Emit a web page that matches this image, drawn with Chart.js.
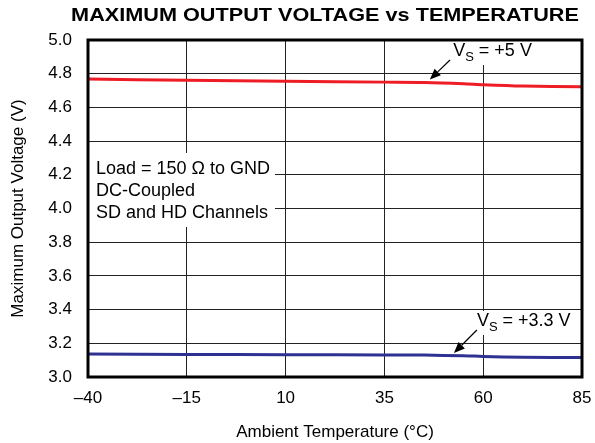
<!DOCTYPE html>
<html>
<head>
<meta charset="utf-8">
<script src="https://cdn.jsdelivr.net/npm/chart.js@4/dist/chart.umd.min.js"></script>
<style>
  html, body { margin: 0; padding: 0; background: #fff; }
  #wrap { width: 595px; height: 443px; }
</style>
</head>
<body>
<div id="wrap"><canvas id="myChart" width="595" height="443"></canvas></div>
<script>
// temperatures (°C) and measured output voltage
const temps = [-40, -15, 10, 35, 45, 55, 60, 70, 85];
const vs5 = [4.768, 4.761, 4.755, 4.750, 4.748, 4.741, 4.735, 4.727, 4.722];
const vs33 = [3.136, 3.134, 3.132, 3.131, 3.130, 3.126, 3.122, 3.117, 3.115];

const xTicks = [-40, -15, 10, 35, 60, 85];
const yTicks = [3.0, 3.2, 3.4, 3.6, 3.8, 4.0, 4.2, 4.4, 4.6, 4.8, 5.0];

const noteLines = ["Load = 150 \u03A9 to GND", "DC-Coupled", "SD and HD Channels"];
const titleText = "MAXIMUM OUTPUT VOLTAGE vs TEMPERATURE";

const FONT = "'Liberation Sans', Arial, sans-serif";

function pts(ys) {
    var out = [];
    for (var i = 0; i < temps.length; i++) {
        out.push({x: temps[i], y: ys[i]});
    }
    return out;
}

function arrow(ctx, x1, y1, x2, y2) {
    ctx.save();
    ctx.strokeStyle = "#000";
    ctx.fillStyle = "#000";
    ctx.lineWidth = 1.2;
    const ang = Math.atan2(y2 - y1, x2 - x1);
    const hl = 11, hw = 4.5;
    const bx = x2 - hl * Math.cos(ang), by = y2 - hl * Math.sin(ang);
    ctx.beginPath();
    ctx.moveTo(x1, y1);
    ctx.lineTo(bx, by);
    ctx.stroke();
    ctx.beginPath();
    ctx.moveTo(x2, y2);
    ctx.lineTo(bx + hw * Math.sin(ang), by - hw * Math.cos(ang));
    ctx.lineTo(bx - hw * Math.sin(ang), by + hw * Math.cos(ang));
    ctx.closePath();
    ctx.fill();
    ctx.restore();
}

function vsLabel(ctx, x, y, value) {
    // "V" with subscript "S" then " = value"
    ctx.save();
    ctx.textBaseline = "alphabetic";
    ctx.textAlign = "left";
    ctx.font = "18px " + FONT;
    const w1 = ctx.measureText("V").width;
    ctx.font = "13px " + FONT;
    const w2 = ctx.measureText("S").width;
    ctx.font = "18px " + FONT;
    const txt = " = " + value;
    const w3 = ctx.measureText(txt).width;
    ctx.fillStyle = "#fff";
    ctx.fillRect(x - 2, y - 15, w1 + w2 + w3 + 4, 24);
    ctx.fillStyle = "#000";
    ctx.fillText("V", x, y);
    ctx.font = "13px " + FONT;
    ctx.fillText("S", x + w1, y + 5);
    ctx.font = "18px " + FONT;
    ctx.fillText(txt, x + w1 + w2, y);
    ctx.restore();
}

const annotate = {
    id: "annotate",
    afterDraw(chart) {
        const ctx = chart.ctx;
        const xs = chart.scales.x, ys = chart.scales.y;
        const area = chart.chartArea;
        const px = v => xs.getPixelForValue(v);
        const py = v => ys.getPixelForValue(v);

        // title, a little wide like the original
        ctx.save();
        ctx.fillStyle = "#000";
        ctx.font = "bold 19px " + FONT;
        ctx.textAlign = "center";
        ctx.textBaseline = "alphabetic";
        ctx.translate((area.left + area.right) / 2 - 10, 21);
        ctx.scale(1.14, 1);
        ctx.fillText(titleText, 0, 0);
        ctx.restore();

        // note box
        ctx.save();
        ctx.font = "18px " + FONT;
        let wmax = 0;
        noteLines.forEach(t => { wmax = Math.max(wmax, ctx.measureText(t).width); });
        const nx = px(-38), ny = py(4.205);
        ctx.fillStyle = "#fff";
        ctx.fillRect(area.left, ny - 21, nx - area.left + wmax + 5, 22 * noteLines.length + 8);
        ctx.fillStyle = "#000";
        ctx.textAlign = "left";
        noteLines.forEach((t, i) => ctx.fillText(t, nx, ny + i * 22));
        ctx.restore();

        // supply labels + arrows
        vsLabel(ctx, px(52.4), py(4.905), "+5 V");
        arrow(ctx, px(51.6), py(4.881), px(46.5), py(4.765));
        vsLabel(ctx, px(58.4), py(3.303), "+3.3 V");
        arrow(ctx, px(58.4), py(3.279), px(52.6), py(3.142));

        // frame
        ctx.save();
        ctx.strokeStyle = "#000";
        ctx.lineWidth = 3;
        ctx.strokeRect(area.left, area.top, area.right - area.left, area.bottom - area.top);
        ctx.restore();
    }
};

Chart.defaults.font.family = FONT;
Chart.defaults.color = "#000";

new Chart(document.getElementById("myChart").getContext("2d"), {
    type: "line",
    data: {
        datasets: [
            {label: "VS = +5 V", data: pts(vs5), borderColor: "#ee1c25", borderWidth: 3, pointRadius: 0, tension: 0.3, fill: false},
            {label: "VS = +3.3 V", data: pts(vs33), borderColor: "#2e3192", borderWidth: 3, pointRadius: 0, tension: 0.3, fill: false}
        ]
    },
    options: {
        responsive: false,
        animation: false,
        layout: {padding: {top: 40, right: 13, bottom: 0, left: 0}},
        plugins: {legend: {display: false}, tooltip: {enabled: false}, title: {display: false}},
        scales: {
            x: {
                type: "linear",
                min: -40, max: 85,
                afterBuildTicks: s => { s.ticks = xTicks.map(v => ({value: v})); },
                afterFit: s => { s.height = 66; s.paddingLeft = 0; s.paddingRight = 0; },
                grid: {color: "#222", lineWidth: 1, drawTicks: false},
                border: {display: false},
                ticks: {
                    padding: 11,
                    font: {size: 17},
                    maxRotation: 0,
                    callback: v => String(v).replace("-", "\u2013")
                },
                title: {display: true, text: "Ambient Temperature (\u00B0C)", font: {size: 17}, padding: {top: 5, bottom: 0}}
            },
            y: {
                min: 3.0, max: 5.0,
                afterBuildTicks: s => { s.ticks = yTicks.map(v => ({value: v})); },
                afterFit: s => { s.width = 88; },
                grid: {color: "#222", lineWidth: 1, drawTicks: false},
                border: {display: false},
                ticks: {
                    padding: 16,
                    font: {size: 17},
                    callback: v => Number(v).toFixed(1)
                },
                title: {display: true, text: "Maximum Output Voltage (V)", font: {size: 17}, padding: {top: 8, bottom: 0}}
            }
        }
    },
    plugins: [annotate]
});
</script>
</body>
</html>
